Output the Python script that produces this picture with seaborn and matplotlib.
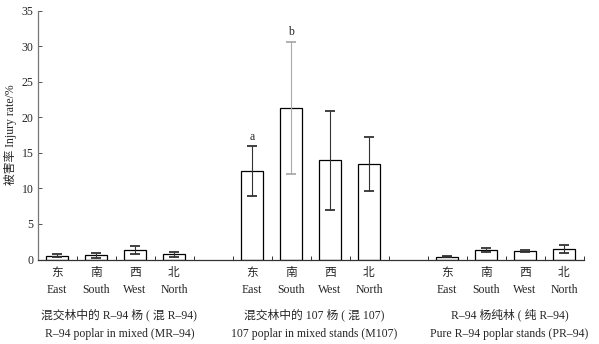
import matplotlib
matplotlib.use("Agg")
import matplotlib.pyplot as plt
import seaborn as sns
import numpy as np
import pandas as pd

# ---- data ----
directions_cn = ["东", "南", "西", "北"]
directions_en = ["East", "South", "West", "North"]
group_cn = ["混交林中的 R–94 杨 ( 混 R–94)", "混交林中的 107 杨 ( 混 107)", "R–94 杨纯林 ( 纯 R–94)"]
group_en = ["R–94 poplar in mixed (MR–94)", "107 poplar in mixed stands (M107)", "Pure R–94 poplar stands (PR–94)"]
mr94_mean = [0.55, 0.6, 1.35, 0.75]
mr94_err = [0.23, 0.35, 0.6, 0.35]
m107_mean = [12.4, 21.35, 13.95, 13.4]
m107_err = [3.5, 9.3, 7.0, 3.8]
pr94_mean = [0.4, 1.35, 1.2, 1.5]
pr94_err = [0.1, 0.3, 0.15, 0.6]
letters_m107 = ["a", "b", "", ""]
yticks = [0, 5, 10, 15, 20, 25, 30, 35]

sns.set_theme(style="white")
plt.rcParams['font.family'] = ['Liberation Serif', 'Noto Sans CJK SC']

means = [mr94_mean, m107_mean, pr94_mean]
errs = [mr94_err, m107_err, pr94_err]
rows = []
for g in range(3):
    for d in range(4):
        rows.append({"pos": g * 5 + d, "value": means[g][d], "err": errs[g][d],
                     "group": g, "dir": d})
for p in [4, 9]:
    rows.append({"pos": p, "value": np.nan, "err": np.nan, "group": -1, "dir": -1})
df = pd.DataFrame(rows).sort_values("pos").reset_index(drop=True)

fig = plt.figure(figsize=(5.99, 3.44), dpi=100)
AX_BOTTOM = 259.5
AX_H = 248.8
ax = fig.add_axes([37.5 / 599, (344 - AX_BOTTOM) / 344, 546 / 599, AX_H / 344])

sns.barplot(data=df, x="pos", y="value", ax=ax, color="white", edgecolor="black",
            linewidth=0.9, width=0.58, errorbar=None, order=list(range(14)), native_scale=True)

for _, r in df.dropna().iterrows():
    col = "#aaaaaa" if (r["group"] == 1 and r["dir"] == 1) else "#333333"
    ax.errorbar(r["pos"], r["value"], yerr=r["err"], fmt="none", ecolor=col,
                elinewidth=0.8, capsize=3.5, capthick=1.3, zorder=4)
    if r["group"] == 1 and letters_m107[int(r["dir"])]:
        ax.text(r["pos"], r["value"] + r["err"] + 0.5, letters_m107[int(r["dir"])],
                ha="center", va="bottom", fontsize=8.5)

ax.set_xlim(-0.5, 13.5)
ax.set_ylim(0, 35)
ax.set_yticks(yticks)
ax.set_yticklabels([str(v) for v in yticks], fontsize=8.5)
ax.set_xticks(np.arange(-0.5, 14, 1.0))
ax.set_xticklabels([])
ax.tick_params(axis="x", direction="in", length=3, width=0.7, color="#333333", bottom=True, pad=0)
ax.tick_params(axis="y", direction="in", length=3, width=0.7, color="#555555", left=True, pad=3)
ax.set_xlabel("")
ax.set_ylabel("被害率 Injury rate/%", fontsize=8.5, labelpad=3)
for s in ["top", "right"]:
    ax.spines[s].set_visible(False)
ax.spines["left"].set_color("#777777")
ax.spines["bottom"].set_color("#333333")
ax.spines["left"].set_linewidth(0.9)
ax.spines["bottom"].set_linewidth(0.9)


def yfrac(py):
    return -(py - AX_BOTTOM) / AX_H


trans = ax.get_xaxis_transform()
for g in range(3):
    for d in range(4):
        p = g * 5 + d
        ax.text(p, yfrac(273), directions_cn[d], transform=trans, ha="center", va="center", fontsize=8.5)
        ax.text(p, yfrac(290), directions_en[d], transform=trans, ha="center", va="center", fontsize=8.5)
    c = g * 5 + 1.6
    ax.text(c, yfrac(315), group_cn[g], transform=trans, ha="center", va="center", fontsize=8.5)
    ax.text(c, yfrac(334.5), group_en[g], transform=trans, ha="center", va="center", fontsize=8.5)

fig.savefig("out.png", dpi=100)
